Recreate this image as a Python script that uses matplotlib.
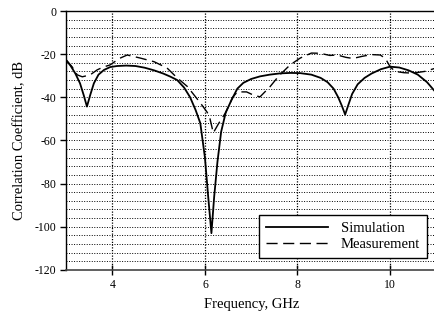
import matplotlib
matplotlib.use('Agg')
import matplotlib.pyplot as plt
import numpy as np

plt.rcParams['font.family'] = ['Liberation Serif', 'DejaVu Serif']
plt.rcParams['axes.unicode_minus'] = False

# Simulation curve
sim_f = [3.0, 3.1, 3.2, 3.3, 3.38, 3.45, 3.52, 3.6, 3.7, 3.82, 3.95, 4.1, 4.3, 4.5, 4.7,
         4.9, 5.1, 5.25, 5.4, 5.55, 5.68, 5.8, 5.9, 6.0, 6.07, 6.14, 6.2, 6.27, 6.35,
         6.45, 6.58, 6.7, 6.83, 7.0, 7.19, 7.4, 7.63, 7.85, 8.06, 8.3, 8.5, 8.65, 8.78,
         8.88, 8.96, 9.03, 9.1, 9.18, 9.3, 9.45, 9.6, 9.8, 10.0, 10.2, 10.4, 10.6,
         10.8, 11.0]
sim_db = [-22.7, -25.5, -29, -33.5, -39, -44.3, -39, -33.5, -29.5, -27.3, -26, -25.5,
          -25.3, -25.5, -26.3, -27.5, -29, -30.4, -32, -35.5, -40, -46, -52, -68,
          -86, -103, -86, -70, -56, -47, -41, -36, -33.3, -31.5, -30.3, -29.5, -28.9,
          -28.7, -28.8, -29.5, -31, -33, -36, -40, -44, -48, -43.5, -38.5, -34, -31,
          -29, -27, -25.8, -26.2, -27.5, -29.5, -33, -38]

# Measurement curve
meas_f = [3.0, 3.13, 3.24, 3.35, 3.52, 3.67, 3.8, 3.95, 4.15, 4.32, 4.6, 4.9, 5.18,
          5.4, 5.62, 5.9, 6.05, 6.11, 6.18, 6.3, 6.45, 6.6, 6.7, 6.9, 7.05, 7.19, 7.41,
          7.6, 7.84, 8.06, 8.3, 8.49, 8.7, 8.86, 9.05, 9.2, 9.4, 9.6, 9.79, 9.9, 10.0,
          10.11, 10.3, 10.5, 10.75, 11.0]
meas_db = [-22.7, -25.9, -29.6, -30.5, -29.6, -27.3, -26, -25, -22, -20.4, -21.8, -23.5,
           -26.4, -31, -35, -42.6, -47, -50, -56.5, -52, -47, -40, -37.5, -37.5, -39,
           -39.8, -35, -30, -25, -21.8, -19.5, -19.6, -20.6, -20.4, -21.5, -22, -21,
           -20.2, -20.4, -22, -25.8, -28, -28.6, -28.8, -28, -26.4]

xticks = [4, 6, 8, 10]
yticks = [0, -20, -40, -60, -80, -100, -120]

fig = plt.figure(figsize=(4.35, 3.19), dpi=100)
ax = fig.add_axes([0.152, 0.154, 0.851, 0.8115])

ax.plot(sim_f, sim_db, color='black', lw=1.3, label='Simulation')
ax.plot(meas_f, meas_db, color='black', lw=1.0, dashes=(8, 4), label='Measurement')

ax.set_xlim(3, 11)
ax.set_ylim(-120, 0)
ax.set_xticks(xticks)
ax.set_yticks(yticks)
ax.set_yticks(np.arange(-120, 1, 4), minor=True)
ax.tick_params(axis='x', direction='inout', length=7, width=1, labelsize=8.5, pad=3)
ax.tick_params(axis='y', direction='out', length=4, width=1, labelsize=8.5, pad=3)
ax.tick_params(axis='y', which='minor', length=0)

ax.grid(axis='y', which='both', color='black', lw=0.7, linestyle=(0, (1, 1.6)))
ax.grid(axis='x', which='major', color='black', lw=0.9, linestyle=(0, (1, 1.2)))

for s in ['left', 'top']:
    ax.spines[s].set_linewidth(1.0)
ax.spines['bottom'].set_linewidth(1.2)
ax.spines['bottom'].set_color('#444444')
ax.spines['right'].set_visible(False)

ax.set_xlabel('Frequency, GHz', fontsize=10.5, labelpad=5)
ax.set_ylabel('Correlation Coefficient, dB', fontsize=10.5, labelpad=6)

leg = ax.legend(loc='lower right', bbox_to_anchor=(0.9756, 0.046), borderaxespad=0,
                fontsize=10.5, handlelength=4.2, handletextpad=0.9, labelspacing=0.15,
                borderpad=0.5, fancybox=False, framealpha=1, edgecolor='black')
leg.get_frame().set_linewidth(1.0)

fig.savefig('out.png', dpi=100)
